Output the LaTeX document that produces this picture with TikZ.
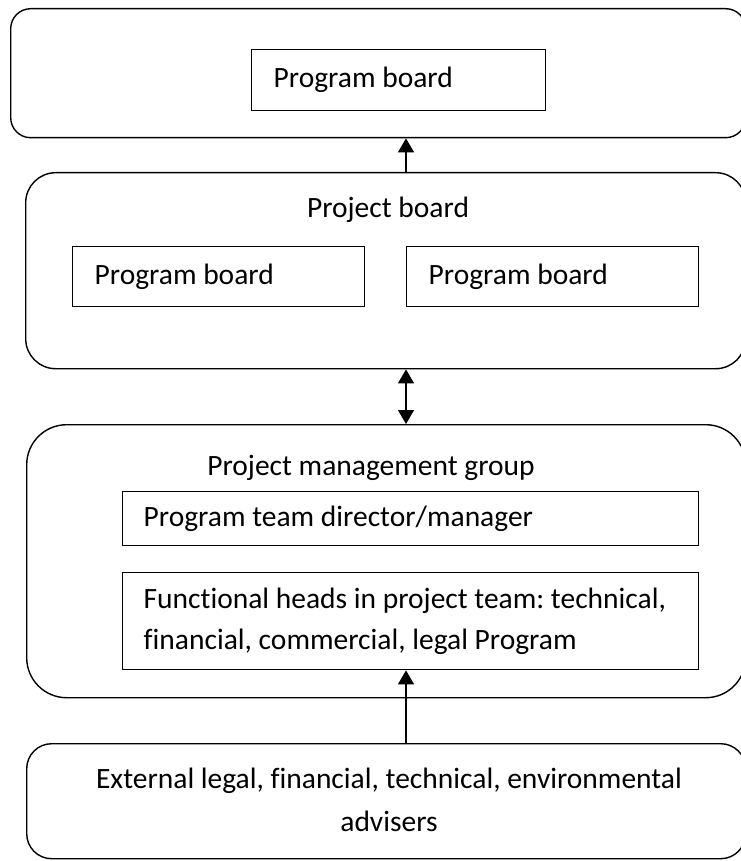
\documentclass[tikz,border=0pt]{standalone}
\usepackage{fontspec}
\setmainfont[Ligatures=NoCommon]{Carlito}
\frenchspacing
\usetikzlibrary{arrows.meta}
\begin{document}
\begin{tikzpicture}[x=1pt,y=-1pt,
  font=\fontsize{29.5}{41}\selectfont,
  outerbox/.style={draw,line width=1.4pt,anchor=north west,inner sep=0pt},
  innerbox/.style={draw,line width=1.4pt,anchor=north west,inner xsep=22pt,inner ysep=0pt,align=flush left},
  lbl/.style={inner sep=0pt},
  conn/.style={line width=1.4pt,-{Triangle[length=14pt,width=16pt]}},
  dconn/.style={line width=1.4pt,{Triangle[length=14pt,width=16pt]}-{Triangle[length=14pt,width=16pt]}}
]
\useasboundingbox (0,0) rectangle (740,861);
% outer boxes
\node[outerbox,rounded corners=20pt,minimum width=735pt,minimum height=129pt] (top) at (10,8) {};
\node[outerbox,rounded corners=30pt,minimum width=720pt,minimum height=196pt] (proj) at (25,172) {};
\node[outerbox,rounded corners=40pt,minimum width=719pt,minimum height=273pt] (pmg) at (26,424) {};
\node[outerbox,rounded corners=25pt,minimum width=719pt,minimum height=115pt] (ext) at (26,743) {};
% inner boxes
\node[innerbox,text width=250pt,minimum height=61pt] (pb0) at (251,49) {Program board};
\node[lbl] (projlbl) at (388,210) {Project board};
\node[innerbox,text width=248pt,minimum height=60pt] (pbL) at (72,246) {Program board};
\node[innerbox,text width=248pt,minimum height=60pt] (pbR) at (406,246) {Program board};
\node[lbl] (pmglbl) at (371,468) {Project management group};
\node[innerbox,inner xsep=21pt,text width=534pt,minimum height=54pt] (dir) at (122,491) {Program team director/manager};
\node[innerbox,inner xsep=21pt,text width=534pt,minimum height=97pt] (func) at (122,572) {Functional heads in project team: technical,\\financial, commercial, legal Program};
\node[lbl,align=center,font=\fontsize{29.5}{43}\selectfont] (extlbl) at (389,800) {External legal, financial, technical, environmental\\advisers};
% connectors
\coordinate (ax) at (406,0);
\draw[conn] (proj.north -| ax) -- (top.south -| ax);
\draw[dconn] (proj.south -| ax) -- (pmg.north -| ax);
\draw[conn] (ext.north -| ax) -- (func.south -| ax);
\end{tikzpicture}
\end{document}
